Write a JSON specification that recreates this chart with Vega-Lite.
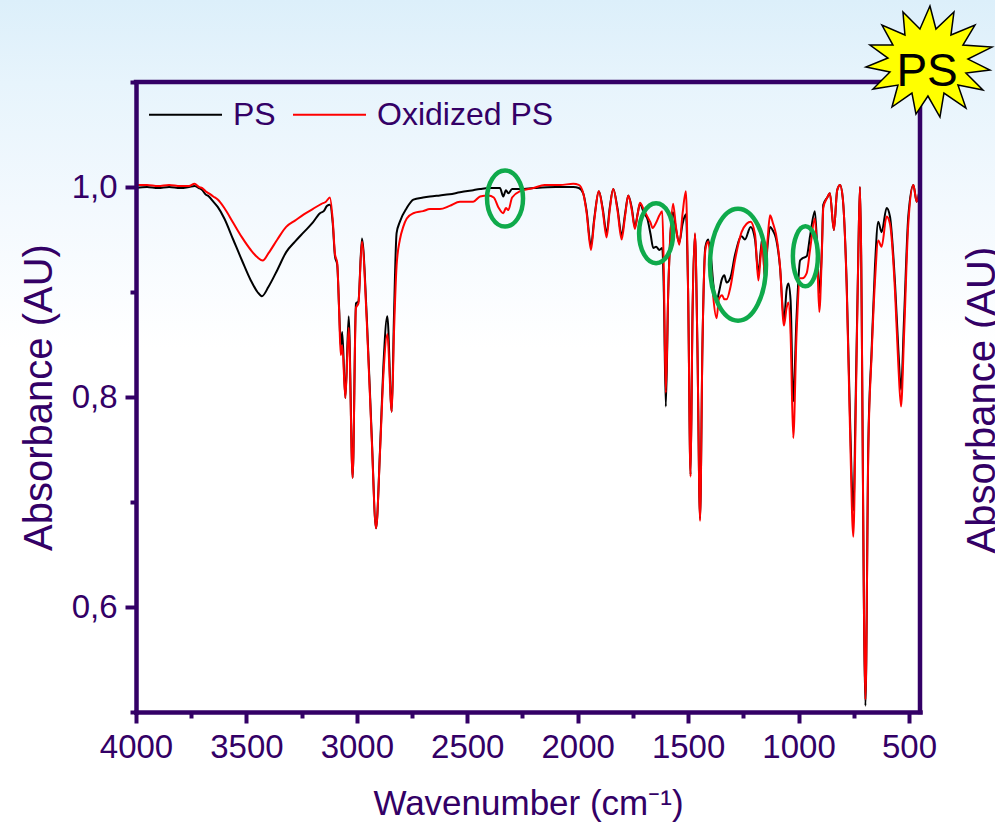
{
  "$schema": "https://vega.github.io/schema/vega-lite/v6.json",
  "autosize": {"type": "none"},
  "width": 784,
  "height": 630,
  "padding": {"left": 136, "top": 82, "right": 75, "bottom": 119},
  "background": "#FFFFFF",
  "datasets": {
    "spec": [
      {"s":"PS","wn":4000,"a":0.999},{"s":"PS","wn":3950,"a":1.000},{"s":"PS","wn":3900,"a":0.999},{"s":"PS","wn":3850,"a":1.000},{"s":"PS","wn":3800,"a":0.999},{"s":"PS","wn":3760,"a":1.000},{"s":"PS","wn":3735,"a":1.001},{"s":"PS","wn":3715,"a":0.999},{"s":"PS","wn":3700,"a":0.997},{"s":"PS","wn":3685,"a":0.993},{"s":"PS","wn":3670,"a":0.991},{"s":"PS","wn":3650,"a":0.986},{"s":"PS","wn":3630,"a":0.981},{"s":"PS","wn":3600,"a":0.970},{"s":"PS","wn":3560,"a":0.950},{"s":"PS","wn":3520,"a":0.930},{"s":"PS","wn":3480,"a":0.911},{"s":"PS","wn":3450,"a":0.900},{"s":"PS","wn":3430,"a":0.896},{"s":"PS","wn":3400,"a":0.905},{"s":"PS","wn":3360,"a":0.921},{"s":"PS","wn":3320,"a":0.938},{"s":"PS","wn":3280,"a":0.948},{"s":"PS","wn":3240,"a":0.957},{"s":"PS","wn":3200,"a":0.966},{"s":"PS","wn":3167,"a":0.975},{"s":"PS","wn":3150,"a":0.977},{"s":"PS","wn":3135,"a":0.982},{"s":"PS","wn":3122,"a":0.983},{"s":"PS","wn":3109,"a":0.965},{"s":"PS","wn":3099,"a":0.934},{"s":"PS","wn":3089,"a":0.926},{"s":"PS","wn":3080,"a":0.883},{"s":"PS","wn":3073,"a":0.848},{"s":"PS","wn":3066,"a":0.862},{"s":"PS","wn":3052,"a":0.799},{"s":"PS","wn":3037,"a":0.877},{"s":"PS","wn":3019,"a":0.723},{"s":"PS","wn":3004,"a":0.889},{"s":"PS","wn":2993,"a":0.891},{"s":"PS","wn":2977,"a":0.951},{"s":"PS","wn":2955,"a":0.876},{"s":"PS","wn":2933,"a":0.765},{"s":"PS","wn":2913,"a":0.675},{"s":"PS","wn":2895,"a":0.750},{"s":"PS","wn":2880,"a":0.829},{"s":"PS","wn":2862,"a":0.877},{"s":"PS","wn":2842,"a":0.786},{"s":"PS","wn":2832,"a":0.876},{"s":"PS","wn":2820,"a":0.956},{"s":"PS","wn":2805,"a":0.967},{"s":"PS","wn":2774,"a":0.980},{"s":"PS","wn":2744,"a":0.988},{"s":"PS","wn":2700,"a":0.990},{"s":"PS","wn":2669,"a":0.991},{"s":"PS","wn":2624,"a":0.992},{"s":"PS","wn":2580,"a":0.993},{"s":"PS","wn":2533,"a":0.995},{"s":"PS","wn":2473,"a":0.997},{"s":"PS","wn":2442,"a":0.998},{"s":"PS","wn":2405,"a":0.999},{"s":"PS","wn":2352,"a":0.999},{"s":"PS","wn":2337,"a":0.991},{"s":"PS","wn":2325,"a":0.997},{"s":"PS","wn":2314,"a":0.994},{"s":"PS","wn":2297,"a":0.998},{"s":"PS","wn":2261,"a":0.998},{"s":"PS","wn":2200,"a":0.999},{"s":"PS","wn":2100,"a":1.000},{"s":"PS","wn":2020,"a":1.000},{"s":"PS","wn":1995,"a":0.999},{"s":"PS","wn":1975,"a":0.994},{"s":"PS","wn":1960,"a":0.978},{"s":"PS","wn":1940,"a":0.944},{"s":"PS","wn":1925,"a":0.970},{"s":"PS","wn":1904,"a":0.996},{"s":"PS","wn":1887,"a":0.980},{"s":"PS","wn":1869,"a":0.956},{"s":"PS","wn":1855,"a":0.980},{"s":"PS","wn":1839,"a":0.998},{"s":"PS","wn":1820,"a":0.980},{"s":"PS","wn":1801,"a":0.954},{"s":"PS","wn":1785,"a":0.975},{"s":"PS","wn":1771,"a":0.992},{"s":"PS","wn":1755,"a":0.980},{"s":"PS","wn":1741,"a":0.962},{"s":"PS","wn":1728,"a":0.975},{"s":"PS","wn":1718,"a":0.984},{"s":"PS","wn":1700,"a":0.975},{"s":"PS","wn":1685,"a":0.970},{"s":"PS","wn":1670,"a":0.955},{"s":"PS","wn":1658,"a":0.942},{"s":"PS","wn":1645,"a":0.943},{"s":"PS","wn":1630,"a":0.940},{"s":"PS","wn":1617,"a":0.942},{"s":"PS","wn":1610,"a":0.900},{"s":"PS","wn":1601,"a":0.791},{"s":"PS","wn":1590,"a":0.900},{"s":"PS","wn":1580,"a":0.955},{"s":"PS","wn":1568,"a":0.976},{"s":"PS","wn":1555,"a":0.960},{"s":"PS","wn":1540,"a":0.947},{"s":"PS","wn":1525,"a":0.965},{"s":"PS","wn":1510,"a":0.974},{"s":"PS","wn":1500,"a":0.900},{"s":"PS","wn":1489,"a":0.726},{"s":"PS","wn":1480,"a":0.880},{"s":"PS","wn":1469,"a":0.955},{"s":"PS","wn":1458,"a":0.850},{"s":"PS","wn":1446,"a":0.684},{"s":"PS","wn":1435,"a":0.850},{"s":"PS","wn":1422,"a":0.943},{"s":"PS","wn":1409,"a":0.950},{"s":"PS","wn":1395,"a":0.930},{"s":"PS","wn":1386,"a":0.908},{"s":"PS","wn":1371,"a":0.891},{"s":"PS","wn":1361,"a":0.899},{"s":"PS","wn":1346,"a":0.913},{"s":"PS","wn":1336,"a":0.916},{"s":"PS","wn":1326,"a":0.909},{"s":"PS","wn":1308,"a":0.914},{"s":"PS","wn":1288,"a":0.935},{"s":"PS","wn":1258,"a":0.953},{"s":"PS","wn":1243,"a":0.950},{"s":"PS","wn":1217,"a":0.962},{"s":"PS","wn":1197,"a":0.950},{"s":"PS","wn":1182,"a":0.918},{"s":"PS","wn":1171,"a":0.940},{"s":"PS","wn":1164,"a":0.951},{"s":"PS","wn":1152,"a":0.913},{"s":"PS","wn":1140,"a":0.945},{"s":"PS","wn":1129,"a":0.962},{"s":"PS","wn":1115,"a":0.958},{"s":"PS","wn":1102,"a":0.951},{"s":"PS","wn":1084,"a":0.924},{"s":"PS","wn":1066,"a":0.873},{"s":"PS","wn":1054,"a":0.902},{"s":"PS","wn":1046,"a":0.908},{"s":"PS","wn":1036,"a":0.892},{"s":"PS","wn":1024,"a":0.796},{"s":"PS","wn":1009,"a":0.876},{"s":"PS","wn":993,"a":0.930},{"s":"PS","wn":983,"a":0.932},{"s":"PS","wn":963,"a":0.934},{"s":"PS","wn":948,"a":0.953},{"s":"PS","wn":926,"a":0.977},{"s":"PS","wn":915,"a":0.940},{"s":"PS","wn":906,"a":0.899},{"s":"PS","wn":894,"a":0.943},{"s":"PS","wn":888,"a":0.983},{"s":"PS","wn":870,"a":0.990},{"s":"PS","wn":858,"a":0.994},{"s":"PS","wn":840,"a":0.959},{"s":"PS","wn":825,"a":0.997},{"s":"PS","wn":812,"a":1.002},{"s":"PS","wn":800,"a":0.990},{"s":"PS","wn":782,"a":0.908},{"s":"PS","wn":767,"a":0.781},{"s":"PS","wn":752,"a":0.692},{"s":"PS","wn":740,"a":0.813},{"s":"PS","wn":729,"a":0.940},{"s":"PS","wn":722,"a":1.000},{"s":"PS","wn":697,"a":0.506},{"s":"PS","wn":684,"a":0.756},{"s":"PS","wn":669,"a":0.845},{"s":"PS","wn":654,"a":0.924},{"s":"PS","wn":639,"a":0.967},{"s":"PS","wn":624,"a":0.957},{"s":"PS","wn":601,"a":0.980},{"s":"PS","wn":586,"a":0.972},{"s":"PS","wn":563,"a":0.908},{"s":"PS","wn":548,"a":0.845},{"s":"PS","wn":536,"a":0.807},{"s":"PS","wn":522,"a":0.876},{"s":"PS","wn":503,"a":0.972},{"s":"PS","wn":480,"a":1.002},{"s":"PS","wn":465,"a":0.986},{"s":"PS","wn":450,"a":1.000},
      {"s":"Oxidized PS","wn":4000,"a":1.002},{"s":"Oxidized PS","wn":3950,"a":1.002},{"s":"Oxidized PS","wn":3900,"a":1.001},{"s":"Oxidized PS","wn":3850,"a":1.002},{"s":"Oxidized PS","wn":3800,"a":1.001},{"s":"Oxidized PS","wn":3760,"a":1.001},{"s":"Oxidized PS","wn":3735,"a":1.003},{"s":"Oxidized PS","wn":3715,"a":1.000},{"s":"Oxidized PS","wn":3700,"a":0.999},{"s":"Oxidized PS","wn":3685,"a":0.996},{"s":"Oxidized PS","wn":3670,"a":0.994},{"s":"Oxidized PS","wn":3650,"a":0.991},{"s":"Oxidized PS","wn":3630,"a":0.988},{"s":"Oxidized PS","wn":3600,"a":0.980},{"s":"Oxidized PS","wn":3560,"a":0.966},{"s":"Oxidized PS","wn":3520,"a":0.952},{"s":"Oxidized PS","wn":3480,"a":0.940},{"s":"Oxidized PS","wn":3450,"a":0.933},{"s":"Oxidized PS","wn":3426,"a":0.930},{"s":"Oxidized PS","wn":3400,"a":0.937},{"s":"Oxidized PS","wn":3360,"a":0.950},{"s":"Oxidized PS","wn":3320,"a":0.962},{"s":"Oxidized PS","wn":3280,"a":0.968},{"s":"Oxidized PS","wn":3240,"a":0.974},{"s":"Oxidized PS","wn":3200,"a":0.979},{"s":"Oxidized PS","wn":3160,"a":0.984},{"s":"Oxidized PS","wn":3140,"a":0.986},{"s":"Oxidized PS","wn":3122,"a":0.990},{"s":"Oxidized PS","wn":3109,"a":0.968},{"s":"Oxidized PS","wn":3099,"a":0.936},{"s":"Oxidized PS","wn":3089,"a":0.928},{"s":"Oxidized PS","wn":3080,"a":0.880},{"s":"Oxidized PS","wn":3073,"a":0.840},{"s":"Oxidized PS","wn":3066,"a":0.849},{"s":"Oxidized PS","wn":3052,"a":0.799},{"s":"Oxidized PS","wn":3037,"a":0.866},{"s":"Oxidized PS","wn":3019,"a":0.723},{"s":"Oxidized PS","wn":3004,"a":0.885},{"s":"Oxidized PS","wn":2993,"a":0.889},{"s":"Oxidized PS","wn":2977,"a":0.948},{"s":"Oxidized PS","wn":2955,"a":0.872},{"s":"Oxidized PS","wn":2933,"a":0.762},{"s":"Oxidized PS","wn":2913,"a":0.675},{"s":"Oxidized PS","wn":2895,"a":0.748},{"s":"Oxidized PS","wn":2880,"a":0.820},{"s":"Oxidized PS","wn":2862,"a":0.860},{"s":"Oxidized PS","wn":2842,"a":0.786},{"s":"Oxidized PS","wn":2832,"a":0.860},{"s":"Oxidized PS","wn":2820,"a":0.925},{"s":"Oxidized PS","wn":2805,"a":0.950},{"s":"Oxidized PS","wn":2790,"a":0.962},{"s":"Oxidized PS","wn":2774,"a":0.970},{"s":"Oxidized PS","wn":2744,"a":0.975},{"s":"Oxidized PS","wn":2700,"a":0.977},{"s":"Oxidized PS","wn":2669,"a":0.979},{"s":"Oxidized PS","wn":2624,"a":0.979},{"s":"Oxidized PS","wn":2580,"a":0.982},{"s":"Oxidized PS","wn":2533,"a":0.986},{"s":"Oxidized PS","wn":2473,"a":0.986},{"s":"Oxidized PS","wn":2442,"a":0.991},{"s":"Oxidized PS","wn":2405,"a":0.992},{"s":"Oxidized PS","wn":2380,"a":0.990},{"s":"Oxidized PS","wn":2360,"a":0.981},{"s":"Oxidized PS","wn":2337,"a":0.975},{"s":"Oxidized PS","wn":2325,"a":0.980},{"s":"Oxidized PS","wn":2314,"a":0.978},{"s":"Oxidized PS","wn":2297,"a":0.990},{"s":"Oxidized PS","wn":2261,"a":0.996},{"s":"Oxidized PS","wn":2200,"a":0.999},{"s":"Oxidized PS","wn":2150,"a":1.002},{"s":"Oxidized PS","wn":2080,"a":1.002},{"s":"Oxidized PS","wn":2020,"a":1.003},{"s":"Oxidized PS","wn":1995,"a":1.002},{"s":"Oxidized PS","wn":1975,"a":0.994},{"s":"Oxidized PS","wn":1960,"a":0.976},{"s":"Oxidized PS","wn":1940,"a":0.940},{"s":"Oxidized PS","wn":1925,"a":0.968},{"s":"Oxidized PS","wn":1904,"a":0.996},{"s":"Oxidized PS","wn":1887,"a":0.978},{"s":"Oxidized PS","wn":1869,"a":0.952},{"s":"Oxidized PS","wn":1855,"a":0.978},{"s":"Oxidized PS","wn":1839,"a":0.998},{"s":"Oxidized PS","wn":1820,"a":0.978},{"s":"Oxidized PS","wn":1801,"a":0.950},{"s":"Oxidized PS","wn":1785,"a":0.973},{"s":"Oxidized PS","wn":1771,"a":0.992},{"s":"Oxidized PS","wn":1755,"a":0.978},{"s":"Oxidized PS","wn":1741,"a":0.960},{"s":"Oxidized PS","wn":1728,"a":0.975},{"s":"Oxidized PS","wn":1718,"a":0.985},{"s":"Oxidized PS","wn":1700,"a":0.978},{"s":"Oxidized PS","wn":1685,"a":0.972},{"s":"Oxidized PS","wn":1670,"a":0.966},{"s":"Oxidized PS","wn":1661,"a":0.961},{"s":"Oxidized PS","wn":1645,"a":0.966},{"s":"Oxidized PS","wn":1630,"a":0.973},{"s":"Oxidized PS","wn":1617,"a":0.977},{"s":"Oxidized PS","wn":1610,"a":0.920},{"s":"Oxidized PS","wn":1601,"a":0.804},{"s":"Oxidized PS","wn":1590,"a":0.900},{"s":"Oxidized PS","wn":1580,"a":0.955},{"s":"Oxidized PS","wn":1568,"a":0.984},{"s":"Oxidized PS","wn":1555,"a":0.962},{"s":"Oxidized PS","wn":1540,"a":0.945},{"s":"Oxidized PS","wn":1525,"a":0.975},{"s":"Oxidized PS","wn":1510,"a":0.996},{"s":"Oxidized PS","wn":1500,"a":0.900},{"s":"Oxidized PS","wn":1489,"a":0.724},{"s":"Oxidized PS","wn":1480,"a":0.880},{"s":"Oxidized PS","wn":1469,"a":0.956},{"s":"Oxidized PS","wn":1458,"a":0.850},{"s":"Oxidized PS","wn":1446,"a":0.682},{"s":"Oxidized PS","wn":1435,"a":0.850},{"s":"Oxidized PS","wn":1422,"a":0.940},{"s":"Oxidized PS","wn":1409,"a":0.948},{"s":"Oxidized PS","wn":1395,"a":0.920},{"s":"Oxidized PS","wn":1386,"a":0.895},{"s":"Oxidized PS","wn":1371,"a":0.875},{"s":"Oxidized PS","wn":1361,"a":0.893},{"s":"Oxidized PS","wn":1346,"a":0.897},{"s":"Oxidized PS","wn":1336,"a":0.893},{"s":"Oxidized PS","wn":1326,"a":0.893},{"s":"Oxidized PS","wn":1308,"a":0.905},{"s":"Oxidized PS","wn":1288,"a":0.930},{"s":"Oxidized PS","wn":1258,"a":0.957},{"s":"Oxidized PS","wn":1235,"a":0.965},{"s":"Oxidized PS","wn":1217,"a":0.967},{"s":"Oxidized PS","wn":1197,"a":0.955},{"s":"Oxidized PS","wn":1182,"a":0.911},{"s":"Oxidized PS","wn":1171,"a":0.935},{"s":"Oxidized PS","wn":1164,"a":0.948},{"s":"Oxidized PS","wn":1152,"a":0.913},{"s":"Oxidized PS","wn":1140,"a":0.950},{"s":"Oxidized PS","wn":1129,"a":0.973},{"s":"Oxidized PS","wn":1115,"a":0.965},{"s":"Oxidized PS","wn":1102,"a":0.955},{"s":"Oxidized PS","wn":1084,"a":0.925},{"s":"Oxidized PS","wn":1066,"a":0.868},{"s":"Oxidized PS","wn":1054,"a":0.885},{"s":"Oxidized PS","wn":1046,"a":0.890},{"s":"Oxidized PS","wn":1036,"a":0.860},{"s":"Oxidized PS","wn":1024,"a":0.761},{"s":"Oxidized PS","wn":1009,"a":0.860},{"s":"Oxidized PS","wn":993,"a":0.913},{"s":"Oxidized PS","wn":983,"a":0.913},{"s":"Oxidized PS","wn":963,"a":0.918},{"s":"Oxidized PS","wn":948,"a":0.940},{"s":"Oxidized PS","wn":926,"a":0.970},{"s":"Oxidized PS","wn":915,"a":0.930},{"s":"Oxidized PS","wn":906,"a":0.881},{"s":"Oxidized PS","wn":894,"a":0.940},{"s":"Oxidized PS","wn":888,"a":0.980},{"s":"Oxidized PS","wn":870,"a":0.990},{"s":"Oxidized PS","wn":858,"a":0.994},{"s":"Oxidized PS","wn":840,"a":0.959},{"s":"Oxidized PS","wn":825,"a":0.997},{"s":"Oxidized PS","wn":812,"a":1.002},{"s":"Oxidized PS","wn":800,"a":0.990},{"s":"Oxidized PS","wn":782,"a":0.905},{"s":"Oxidized PS","wn":767,"a":0.770},{"s":"Oxidized PS","wn":752,"a":0.667},{"s":"Oxidized PS","wn":740,"a":0.800},{"s":"Oxidized PS","wn":729,"a":0.940},{"s":"Oxidized PS","wn":722,"a":1.000},{"s":"Oxidized PS","wn":697,"a":0.512},{"s":"Oxidized PS","wn":684,"a":0.750},{"s":"Oxidized PS","wn":669,"a":0.840},{"s":"Oxidized PS","wn":654,"a":0.910},{"s":"Oxidized PS","wn":639,"a":0.949},{"s":"Oxidized PS","wn":624,"a":0.943},{"s":"Oxidized PS","wn":601,"a":0.972},{"s":"Oxidized PS","wn":586,"a":0.965},{"s":"Oxidized PS","wn":563,"a":0.900},{"s":"Oxidized PS","wn":548,"a":0.830},{"s":"Oxidized PS","wn":536,"a":0.791},{"s":"Oxidized PS","wn":522,"a":0.860},{"s":"Oxidized PS","wn":503,"a":0.965},{"s":"Oxidized PS","wn":480,"a":1.002},{"s":"Oxidized PS","wn":465,"a":0.986},{"s":"Oxidized PS","wn":450,"a":1.000}
    ],
    "ell": [
      {"id":"e1","wn":2329,"a":0.989},
      {"id":"e2","wn":1645,"a":0.956},
      {"id":"e3","wn":1274,"a":0.926},
      {"id":"e4","wn":969,"a":0.934}
    ]
  },
  "layer": [
    {
      "data": {"values": [{}]},
      "mark": {"type": "rect", "color": {"gradient": "linear", "x1": 0, "y1": 0, "x2": 0, "y2": 1, "stops": [{"offset": 0, "color": "#DCEFFA"}, {"offset": 0.1, "color": "#E7F4FC"}, {"offset": 0.25, "color": "#F3F9FE"}, {"offset": 0.42, "color": "#FFFFFF"}, {"offset": 1, "color": "#FFFFFF"}]}},
      "encoding": {
        "x": {"datum": 4616, "type": "quantitative", "axis": null},
        "x2": {"datum": 110},
        "y": {"datum": 1.178, "type": "quantitative", "axis": null},
        "y2": {"datum": 0.387}
      }
    },
    {
      "data": {"name": "spec"},
      "transform": [{"filter": "datum.s === 'PS'"}],
      "mark": {"type": "line", "strokeWidth": 2, "interpolate": "monotone"},
      "encoding": {
        "x": {"field": "wn", "type": "quantitative",
          "scale": {"domain": [450, 4000], "reverse": true, "nice": false, "zero": false},
          "axis": {"orient": "bottom", "zindex": 1, "title": "Wavenumber (cm⁻¹)", "values": [4000, 3750, 3500, 3250, 3000, 2750, 2500, 2250, 2000, 1750, 1500, 1250, 1000, 750, 500],
            "format": "d", "labelExpr": "datum.value % 500 === 0 ? datum.label : ''",
            "tickSize": {"condition": {"test": "datum.value % 500 === 0", "value": 11}, "value": 6},
            "labelFlush": false, "labelOverlap": false, "labelPadding": 8, "titlePadding": 22}},
        "y": {"field": "a", "type": "quantitative",
          "scale": {"domain": [0.5, 1.1], "nice": false, "zero": false},
          "axis": {"orient": "left", "zindex": 1, "title": "Absorbance (AU)", "values": [0.5, 0.6, 0.7, 0.8, 0.9, 1.0, 1.1],
            "labelExpr": "round(datum.value*10) % 2 === 0 ? replace(format(datum.value, '.1f'), '.', ',') : ''",
            "tickSize": {"condition": {"test": "round(datum.value*10) % 2 === 0", "value": 11}, "value": 6},
            "labelPadding": 8, "labelOverlap": false, "labelFlush": false, "titleFontSize": 40, "titlePadding": 12}},
        "color": {"field": "s", "type": "nominal",
          "scale": {"domain": ["PS", "Oxidized PS"], "range": ["#000000", "#FF0000"]},
          "legend": {"orient": "none", "legendX": 12, "legendY": -5, "direction": "horizontal", "title": null,
            "symbolType": "stroke", "symbolSize": 5329, "symbolStrokeWidth": 2, "labelFontSize": 32, "labelLimit": 0,
            "labelFont": "Liberation Sans", "labelColor": "#330066", "labelOffset": 10, "columnPadding": 13, "padding": 0, "zindex": 1}}
      }
    },
    {
      "data": {"name": "spec"},
      "transform": [{"filter": "datum.s === 'Oxidized PS'"}],
      "mark": {"type": "line", "strokeWidth": 2, "interpolate": "monotone"},
      "encoding": {
        "x": {"field": "wn", "type": "quantitative", "axis": null},
        "y": {"field": "a", "type": "quantitative", "axis": null},
        "color": {"field": "s", "type": "nominal"}
      }
    },
    {
      "data": {"name": "ell"},
      "mark": {"type": "point", "filled": false, "size": 4, "stroke": "#0FAA4B", "strokeWidth": 4.5, "opacity": 1},
      "encoding": {
        "x": {"field": "wn", "type": "quantitative", "axis": null},
        "y": {"field": "a", "type": "quantitative", "axis": null},
        "shape": {"field": "id", "type": "nominal", "legend": null,
          "scale": {"domain": ["e1", "e2", "e3", "e4"],
            "range": ["M -18,0 A 18,28 0 1,0 18,0 A 18,28 0 1,0 -18,0 Z",
                      "M -17,0 A 17,30 0 1,0 17,0 A 17,30 0 1,0 -17,0 Z",
                      "M -28,0 A 28,56 0 1,0 28,0 A 28,56 0 1,0 -28,0 Z",
                      "M -12.5,0 A 12.5,30 0 1,0 12.5,0 A 12.5,30 0 1,0 -12.5,0 Z"]}}
      }
    },
    {
      "data": {"values": [{}]},
      "mark": {"type": "rule", "color": "#330066", "strokeWidth": 4.5, "strokeCap": "square"},
      "encoding": {
        "x": {"datum": 4000, "type": "quantitative", "axis": null},
        "x2": {"datum": 450},
        "y": {"datum": 1.1, "type": "quantitative", "axis": null}
      }
    },
    {
      "data": {"values": [{}]},
      "mark": {"type": "rule", "color": "#330066", "strokeWidth": 4.5, "strokeCap": "square"},
      "encoding": {
        "x": {"datum": 450, "type": "quantitative", "axis": null},
        "y": {"datum": 0.5, "type": "quantitative", "axis": null},
        "y2": {"datum": 1.1}
      }
    },
    {
      "data": {"values": [{}]},
      "mark": {"type": "point", "filled": true, "size": 4, "fill": "#FFFF00", "stroke": "#000000", "strokeWidth": 1.5, "opacity": 1,
        "shape": "M 2,-56 L 8,-33 L 26,-50 L 23,-27 L 47,-37 L 35,-17 L 64,-15 L 40,-3 L 62,8 L 38,11 L 55,28 L 30,23 L 38,46 L 16,31 L 12,55 L 0,34 L -12,52 L -16,31 L -36,45 L -30,23 L -55,27 L -38,10 L -62,5 L -40,-4 L -58,-17 L -35,-17 L -46,-37 L -23,-27 L -25,-50 L -8,-33 Z"},
      "encoding": {
        "x": {"datum": 414, "type": "quantitative", "axis": null},
        "y": {"datum": 1.119, "type": "quantitative", "axis": null}
      }
    },
    {
      "data": {"values": [{"label": "PS"}]},
      "mark": {"type": "text", "font": "Liberation Sans Narrow, Arial Narrow, Liberation Sans", "fontSize": 46, "color": "#000000", "align": "center", "baseline": "middle"},
      "encoding": {
        "x": {"datum": 418, "type": "quantitative", "axis": null},
        "y": {"datum": 1.1095, "type": "quantitative", "axis": null},
        "text": {"field": "label"}
      }
    },
    {
      "data": {"values": [{"label": "Absorbance (AU)"}]},
      "mark": {"type": "text", "font": "Liberation Sans", "fontSize": 40, "color": "#330066", "align": "center", "baseline": "top", "angle": 270},
      "encoding": {
        "x": {"datum": 255, "type": "quantitative", "axis": null},
        "y": {"datum": 0.797, "type": "quantitative", "axis": null},
        "text": {"field": "label"}
      }
    }
  ],
  "resolve": {"axis": {"x": "independent", "y": "independent"}},
  "config": {
    "view": {"stroke": null},
    "font": "Liberation Sans",
    "axis": {
      "grid": false, "zindex": 1,
      "domainColor": "#330066", "domainWidth": 4.5, "domainCap": "square",
      "tickColor": "#330066", "tickWidth": 4,
      "labelColor": "#330066", "labelFont": "Liberation Sans", "labelFontSize": 33,
      "titleColor": "#330066", "titleFont": "Liberation Sans", "titleFontSize": 35, "titleFontWeight": "normal"
    }
  }
}
